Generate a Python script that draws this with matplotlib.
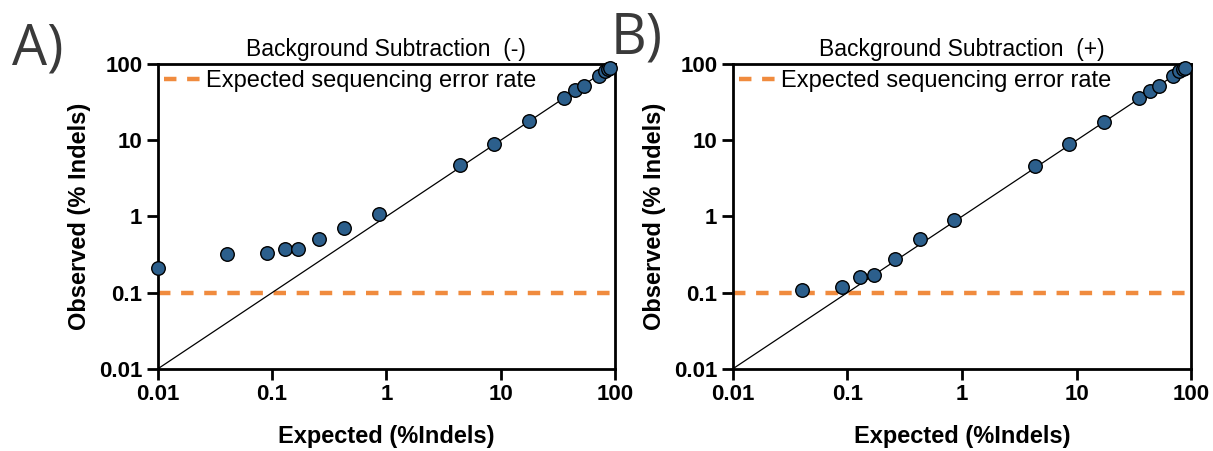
import matplotlib.pyplot as plt
import numpy as np

plt.rcParams["font.family"] = ["Liberation Sans", "DejaVu Sans"]

# expected vs observed indel frequencies (%)
expected_a = [0.01, 0.04, 0.09, 0.13, 0.17, 0.26, 0.43, 0.87, 4.4, 8.8, 17.8,
              35.6, 45, 54, 72, 82, 87, 90]
observed_a = [0.21, 0.32, 0.33, 0.37, 0.38, 0.50, 0.71, 1.08, 4.75, 9.0, 18.1,
              35.9, 45.6, 51.5, 70, 81, 87, 90]

expected_b = [0.04, 0.09, 0.13, 0.17, 0.26, 0.43, 0.86, 4.3, 8.65, 17.3,
              34.8, 43.4, 52, 69.6, 79, 85, 88]
observed_b = [0.11, 0.12, 0.16, 0.17, 0.28, 0.51, 0.90, 4.56, 8.9, 17.6,
              35.5, 44.8, 52, 70.3, 81, 87, 90]

error_rate = 0.1
ticks = [0.01, 0.1, 1, 10, 100]
tick_labels = ["0.01", "0.1", "1", "10", "100"]

BLUE = "#2C5F8C"
ORANGE = "#F08B3E"

fig = plt.figure(figsize=(12.13, 4.51), dpi=100)
ax_a = fig.add_axes([0.130, 0.182, 0.377, 0.676])
ax_b = fig.add_axes([0.604, 0.182, 0.378, 0.676])

panels = [
    (ax_a, expected_a, observed_a, "Background Subtraction  (-)"),
    (ax_b, expected_b, observed_b, "Background Subtraction  (+)"),
]

for ax, xs, ys, title in panels:
    ax.set_xscale("log")
    ax.set_yscale("log")
    ax.set_xlim(0.01, 100)
    ax.set_ylim(0.01, 100)

    # identity line
    ax.plot([0.01, 100], [0.01, 100], color="black", lw=0.9, zorder=2)
    ax.axhline(error_rate, color=ORANGE, lw=3.2, dashes=(2.8, 2.4),
               label="Expected sequencing error rate", zorder=1)
    ax.scatter(xs, ys, s=95, color=BLUE, edgecolor="black", linewidth=1.0,
               zorder=3, clip_on=False)

    ax.set_xticks(ticks)
    ax.set_xticklabels(tick_labels)
    ax.set_yticks(ticks)
    ax.set_yticklabels(tick_labels)
    ax.minorticks_off()
    ax.tick_params(axis="both", length=8, width=2, labelsize=16, pad=3)
    for lab in ax.get_xticklabels() + ax.get_yticklabels():
        lab.set_fontweight("bold")
    for sp in ax.spines.values():
        sp.set_linewidth(2)

    ax.set_xlabel("Expected (%Indels)", fontsize=17, fontweight="bold",
                  labelpad=14)
    ax.set_ylabel("Observed (% Indels)", fontsize=17, fontweight="bold",
                  labelpad=6)
    ax.set_title(title, fontsize=16.5, pad=6)

    ax.legend(loc="upper left", frameon=False, fontsize=17, handlelength=1.6,
              handletextpad=0.2, borderaxespad=0.0, borderpad=0.25)

fig.text(0.010, 0.858, "A)", fontsize=40, color="#3a3a3a",
         family=["Open Sans", "DejaVu Sans"])
fig.text(0.503, 0.882, "B)", fontsize=40, color="#3a3a3a",
         family=["Open Sans", "DejaVu Sans"])

fig.savefig("out.png", dpi=100)
